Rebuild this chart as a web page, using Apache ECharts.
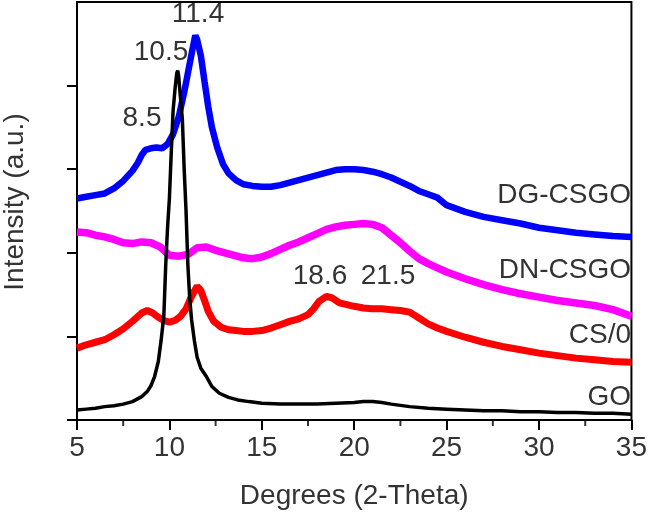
<!DOCTYPE html>
<html>
<head>
<meta charset="utf-8">
<script src="https://cdn.jsdelivr.net/npm/echarts@6/dist/echarts.min.js"></script>
<style>
html,body{margin:0;padding:0;background:#fff;}
#chart{width:650px;height:515px;}
</style>
</head>
<body>
<div id="chart"></div>
<script>
// x ticks (2-theta, degrees)
const xTicks = [5, 10, 15, 20, 25, 30, 35];
const xMinorTicks = [7.5, 12.5, 17.5, 22.5, 27.5, 32.5];

// Series values [2-theta, intensity a.u.]
const GO = [
 [5,0.12],[5.5,0.13],[6,0.14],[6.5,0.16],[7,0.17],[7.5,0.19],[8,0.22],[8.5,0.28],[8.8,0.34],
 [9.0,0.41],[9.2,0.52],[9.4,0.70],[9.55,0.95],[9.7,1.25],[9.8,1.85],[9.9,2.3],[10.0,2.65],
 [10.1,3.2],[10.2,3.7],[10.3,3.95],[10.4,4.15],[10.45,4.18],[10.5,4.12],[10.6,3.85],[10.7,3.6],
 [10.8,3.0],[10.9,2.5],[11.0,1.85],[11.1,1.45],[11.2,1.2],[11.35,0.95],[11.5,0.75],[11.7,0.62],
 [12.0,0.52],[12.3,0.40],[12.7,0.32],[13.2,0.27],[13.7,0.24],[14.3,0.22],[15,0.20],[16,0.19],
 [17,0.19],[18,0.19],[19,0.20],[20,0.21],[20.5,0.22],[21,0.22],[21.5,0.21],[22,0.19],[23,0.16],
 [24,0.14],[25,0.13],[26,0.12],[27,0.11],[28,0.11],[29,0.10],[30,0.10],[31,0.09],[32,0.09],
 [33,0.08],[34,0.08],[35,0.07]
];
const CS0 = [
 [5,0.86],[5.5,0.90],[6,0.93],[6.5,0.96],[7,1.02],[7.5,1.09],[8,1.18],[8.5,1.28],[8.8,1.31],
 [9.1,1.28],[9.4,1.23],[9.7,1.19],[10,1.17],[10.3,1.19],[10.6,1.24],[10.9,1.33],[11.2,1.48],
 [11.5,1.60],[11.7,1.55],[11.9,1.43],[12.1,1.30],[12.4,1.18],[12.8,1.11],[13.2,1.08],[13.6,1.07],
 [14,1.06],[14.5,1.06],[15,1.07],[15.5,1.10],[16,1.14],[16.5,1.18],[17,1.21],[17.5,1.26],
 [17.8,1.33],[18.1,1.42],[18.5,1.48],[18.8,1.46],[19.2,1.40],[19.6,1.38],[20,1.36],[20.5,1.34],
 [21,1.33],[21.5,1.33],[22,1.32],[22.5,1.31],[23,1.29],[23.5,1.22],[24,1.15],[24.5,1.10],
 [25,1.06],[26,0.99],[27,0.93],[28,0.88],[29,0.84],[30,0.80],[31,0.77],[32,0.74],[33,0.72],
 [34,0.70],[35,0.69]
];
const DN_CSGO = [
 [5,2.25],[5.5,2.24],[6,2.21],[6.5,2.19],[7,2.16],[7.5,2.12],[8,2.11],[8.5,2.13],[9,2.12],
 [9.5,2.07],[10,1.97],[10.5,1.96],[11,1.98],[11.5,2.06],[12,2.07],[12.5,2.03],[13,2.0],
 [13.5,1.97],[14,1.94],[14.5,1.93],[15,1.95],[15.5,1.99],[16,2.04],[16.5,2.09],[17,2.13],
 [17.5,2.18],[18,2.23],[18.5,2.28],[19,2.31],[19.5,2.33],[20,2.34],[20.5,2.35],[21,2.34],
 [21.5,2.30],[22,2.21],[22.5,2.12],[23,2.02],[23.5,1.93],[24,1.87],[24.5,1.82],[25,1.77],
 [26,1.69],[27,1.62],[28,1.56],[29,1.51],[30,1.47],[31,1.43],[32,1.40],[33,1.37],[34,1.32],[35,1.24]
];
const DG_CSGO = [
 [5,2.65],[5.5,2.67],[6,2.69],[6.5,2.71],[7,2.77],[7.5,2.86],[8,2.98],[8.3,3.08],[8.5,3.17],
 [8.7,3.23],[9.0,3.25],[9.3,3.26],[9.6,3.25],[9.9,3.30],[10.2,3.42],[10.5,3.62],[10.8,3.92],
 [11.0,4.15],[11.2,4.38],[11.4,4.60],[11.5,4.55],[11.7,4.36],[11.9,4.05],[12.1,3.75],[12.3,3.50],
 [12.6,3.25],[12.9,3.06],[13.2,2.95],[13.6,2.87],[14,2.82],[14.5,2.80],[15,2.79],[15.5,2.79],
 [16,2.81],[16.5,2.84],[17,2.87],[17.5,2.90],[18,2.93],[18.5,2.96],[19,2.99],[19.5,3.00],
 [20,3.00],[20.5,2.99],[21,2.97],[21.5,2.94],[22,2.90],[22.5,2.85],[23,2.80],[23.5,2.74],
 [24,2.70],[24.5,2.66],[25,2.57],[26,2.49],[27,2.43],[28,2.39],[29,2.35],[30,2.30],[31,2.27],
 [32,2.24],[33,2.22],[34,2.20],[35,2.19]
];

// Text labels
const peakLabels = ['11.4', '10.5', '8.5', '18.6', '21.5'];
const curveNames = ['DG-CSGO', 'DN-CSGO', 'CS/0', 'GO'];
const xName = 'Degrees (2-Theta)';
const yName = 'Intensity (a.u.)';

const FONT = '"Liberation Sans", Arial, sans-serif';
const TXT = '#333';

const chart = echarts.init(document.getElementById('chart'), null, {renderer: 'canvas'});

const peakPos = [[198, 14], [161, 52], [142, 118], [320, 276], [388, 276]];
const namePos = [[631, 195], [631, 270], [631, 335], [631, 397]];

const graphics = [];
peakLabels.forEach((t, i) => graphics.push({
  type: 'text', x: peakPos[i][0], y: peakPos[i][1], z: 100,
  style: {text: t, font: '28px ' + FONT, fill: TXT, align: 'center', verticalAlign: 'middle'}
}));
curveNames.forEach((t, i) => graphics.push({
  type: 'text', x: namePos[i][0], y: namePos[i][1], z: 100,
  style: {text: t, font: '28px ' + FONT, fill: TXT, align: 'right', verticalAlign: 'middle'}
}));
graphics.push({
  type: 'text', x: 15, y: 202, rotation: Math.PI / 2, z: 100,
  style: {text: yName, font: '28px ' + FONT, fill: TXT, align: 'center', verticalAlign: 'middle'}
});

function line(name, data, color, width) {
  return {
    name, type: 'line', data, showSymbol: false, symbol: 'none', smooth: false,
    lineStyle: {color, width, join: 'bevel'}, itemStyle: {color}, animation: false
  };
}

chart.setOption({
  animation: false,
  backgroundColor: '#fff',
  grid: {left: 77, right: 14, top: 2, bottom: 93, show: true, borderColor: '#000', borderWidth: 2},
  xAxis: {
    type: 'value', min: 5, max: 35, interval: 5,
    name: xName, nameLocation: 'middle', nameGap: 62,
    nameTextStyle: {fontFamily: FONT, fontSize: 28, color: TXT},
    axisLine: {show: true, onZero: false, lineStyle: {color: '#000', width: 2}},
    axisTick: {show: true, inside: false, length: 10, lineStyle: {color: '#000', width: 2}},
    axisLabel: {show: true, margin: 14, fontFamily: FONT, fontSize: 28, color: TXT},
    splitLine: {show: false}
  },
  yAxis: {
    type: 'value', min: 0, max: 5, interval: 1,
    axisLine: {show: true, onZero: false, lineStyle: {color: '#000', width: 2}},
    axisTick: {show: true, inside: false, length: 10, lineStyle: {color: '#000', width: 2},
      customValues: [0, 1, 2, 3, 4]},
    axisLabel: {show: false},
    splitLine: {show: false}
  },
  series: [
    line('DG-CSGO', DG_CSGO, '#0000ff', 6.5),
    line('DN-CSGO', DN_CSGO, '#ff00ff', 7.5),
    line('CS/0', CS0, '#ff0000', 7),
    line('GO', GO, '#000000', 3.5),
    {
      // minor ticks of the x axis, placed through the axis scale
      name: 'minorTicks', type: 'scatter', silent: true, clip: false, z: 10,
      data: xMinorTicks.map(v => [v, 0]),
      symbol: 'rect', symbolSize: [2, 6], symbolOffset: [0, 3],
      itemStyle: {color: '#000'}
    }
  ],
  graphic: graphics
});
</script>
</body>
</html>
